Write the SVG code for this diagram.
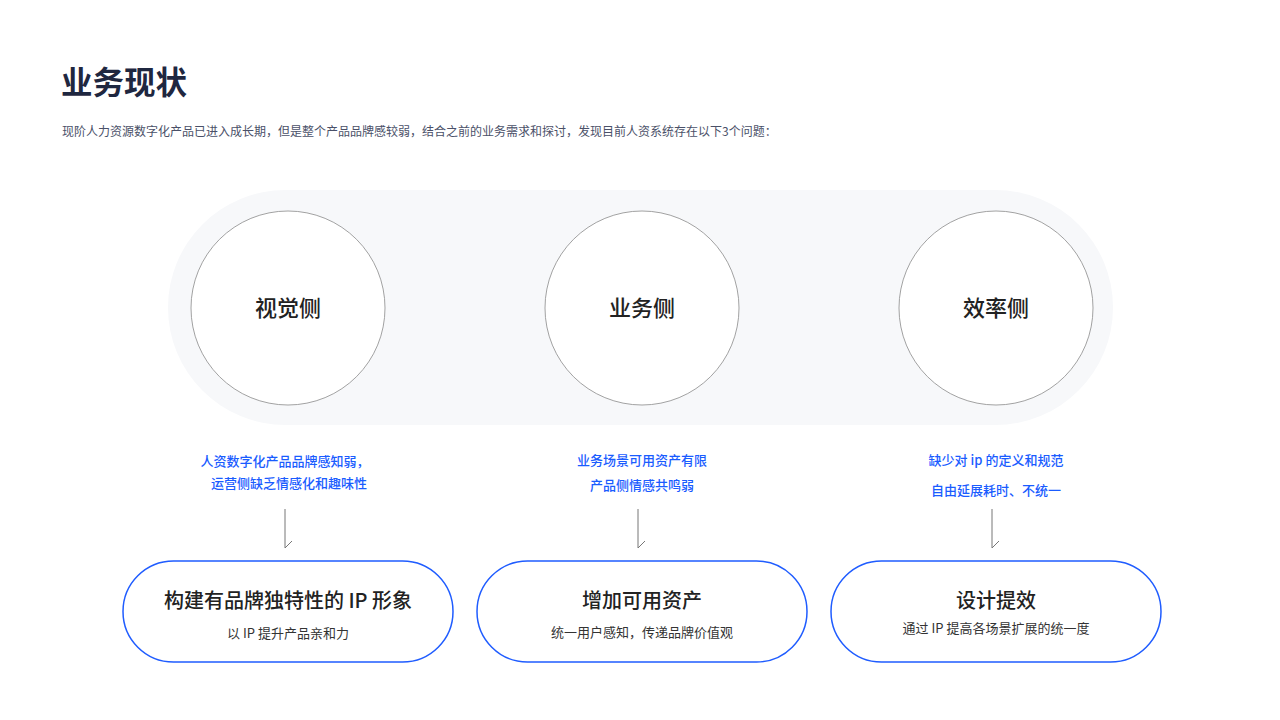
<svg xmlns="http://www.w3.org/2000/svg" width="1280" height="720" viewBox="0 0 1280 720">
<style>
text{font-family:"Noto Sans CJK SC","Noto Sans",sans-serif;}
.title{font-size:31.5px;font-weight:700;fill:#1f2740;}
.sub{font-size:12px;fill:#4a5068;}
.circ{fill:#fff;stroke:#8a8a8a;stroke-width:0.8;}
.clabel{font-size:22px;font-weight:500;fill:#222;text-anchor:middle;}
.blue{font-size:13px;font-weight:500;fill:#1a5cff;text-anchor:middle;}
.pill{fill:#fff;stroke:#1f5cff;stroke-width:1.5;}
.ptitle{font-size:20px;font-weight:500;fill:#222;text-anchor:middle;}
.psub{font-size:13px;fill:#333;text-anchor:middle;}
.conn{fill:none;stroke:#777;stroke-width:1;}
</style>
<rect width="1280" height="720" fill="#fff"/>
<text class="title" x="61" y="94">业务现状</text>
<text class="sub" x="62" y="136">现阶人力资源数字化产品已进入成长期，但是整个产品品牌感较弱，结合之前的业务需求和探讨，发现目前人资系统存在以下3个问题：</text>
<rect x="168" y="190" width="945" height="235" rx="117.5" fill="#f7f8fa"/>
<g id="node-visual">
<circle class="circ" cx="288" cy="308" r="97"/>
<text class="clabel" x="288" y="316">视觉侧</text>
<text class="blue" x="285" y="466">人资数字化产品品牌感知弱，</text>
<text class="blue" x="289" y="488">运营侧缺乏情感化和趣味性</text>
</g>
<g id="node-business">
<circle class="circ" cx="642" cy="308" r="97"/>
<text class="clabel" x="642" y="316">业务侧</text>
<text class="blue" x="642" y="465">业务场景可用资产有限</text>
<text class="blue" x="642" y="490">产品侧情感共鸣弱</text>
</g>
<g id="node-efficiency">
<circle class="circ" cx="996" cy="308" r="97"/>
<text class="clabel" x="996" y="316">效率侧</text>
<text class="blue" x="996" y="465">缺少对 ip 的定义和规范</text>
<text class="blue" x="996" y="495">自由延展耗时、不统一</text>
</g>
<g id="connectors">
<path class="conn" d="M285 509V548L292 541"/>
<path class="conn" d="M638 509V548L645 541"/>
<path class="conn" d="M992 509V548L999 541"/>
</g>
<g id="pill-ip">
<rect class="pill" x="123" y="561" width="330" height="101" rx="50.5"/>
<text class="ptitle" x="288" y="608">构建有品牌独特性的 IP 形象</text>
<text class="psub" x="288" y="638">以 IP 提升产品亲和力</text>
</g>
<g id="pill-asset">
<rect class="pill" x="477" y="561" width="330" height="101" rx="50.5"/>
<text class="ptitle" x="642" y="608">增加可用资产</text>
<text class="psub" x="642" y="637">统一用户感知，传递品牌价值观</text>
</g>
<g id="pill-eff">
<rect class="pill" x="831" y="561" width="330" height="101" rx="50.5"/>
<text class="ptitle" x="996" y="608">设计提效</text>
<text class="psub" x="996" y="633">通过 IP 提高各场景扩展的统一度</text>
</g>
</svg>
